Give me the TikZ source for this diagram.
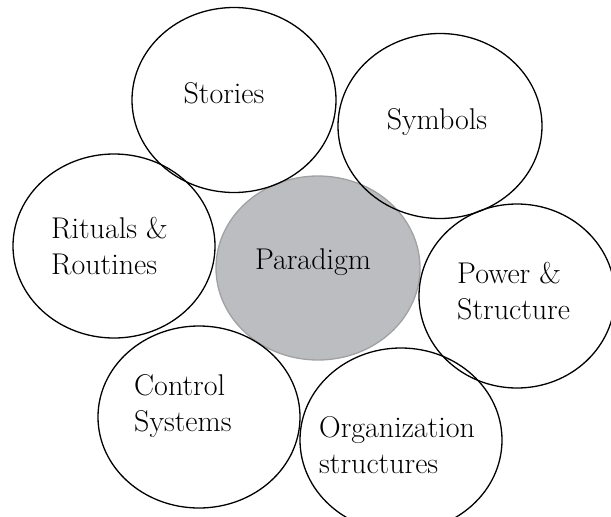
\documentclass[tikz,border=0pt]{standalone}
\usepackage{tikz}
\usetikzlibrary{shapes.geometric}

\definecolor{paradigmgrey}{RGB}{188,189,192}

\begin{document}
\begin{tikzpicture}[x=1pt, y=-1pt,
		bubble/.style = {ellipse, draw, line width=1.3pt, inner sep=0pt},
		caption/.style = {inner sep=0pt, align=left, font=\fontsize{30}{36}\selectfont}]
	\useasboundingbox (0,0) rectangle (611,517);
	% centre
	\node[bubble, fill=paradigmgrey, draw=paradigmgrey!85!black, minimum width=204pt, minimum height=184pt] (paradigm) at (318,268) {};
	% ring
	\node[bubble, minimum width=204pt, minimum height=185pt] (stories) at (234,100) {};
	\node[bubble, minimum width=204pt, minimum height=185pt] (symbols) at (440,126) {};
	\node[bubble, minimum width=202pt, minimum height=184pt] (rituals) at (114,246) {};
	\node[bubble, minimum width=196pt, minimum height=184pt] (power) at (517,296) {};
	\node[bubble, minimum width=202pt, minimum height=182pt] (control) at (199,417) {};
	\node[bubble, minimum width=202pt, minimum height=184pt] (organization) at (401,440) {};
	% texts
	\node[caption] (paradigm-text) at (313,262) {Paradigm};
	\node[caption] (stories-text) at (224,93) {Stories};
	\node[caption] (symbols-text) at (437,122) {Symbols};
	\node[caption, anchor=west] (rituals-text) at (51,246) {Rituals \&\\Routines};
	\node[caption, anchor=west] (power-text) at (457,291) {Power \&\\Structure};
	\node[caption, anchor=west] (control-text) at (134,406) {Control\\Systems};
	\node[caption, anchor=west] (organization-text) at (319,445) {Organization\\structures};
\end{tikzpicture}
\end{document}
